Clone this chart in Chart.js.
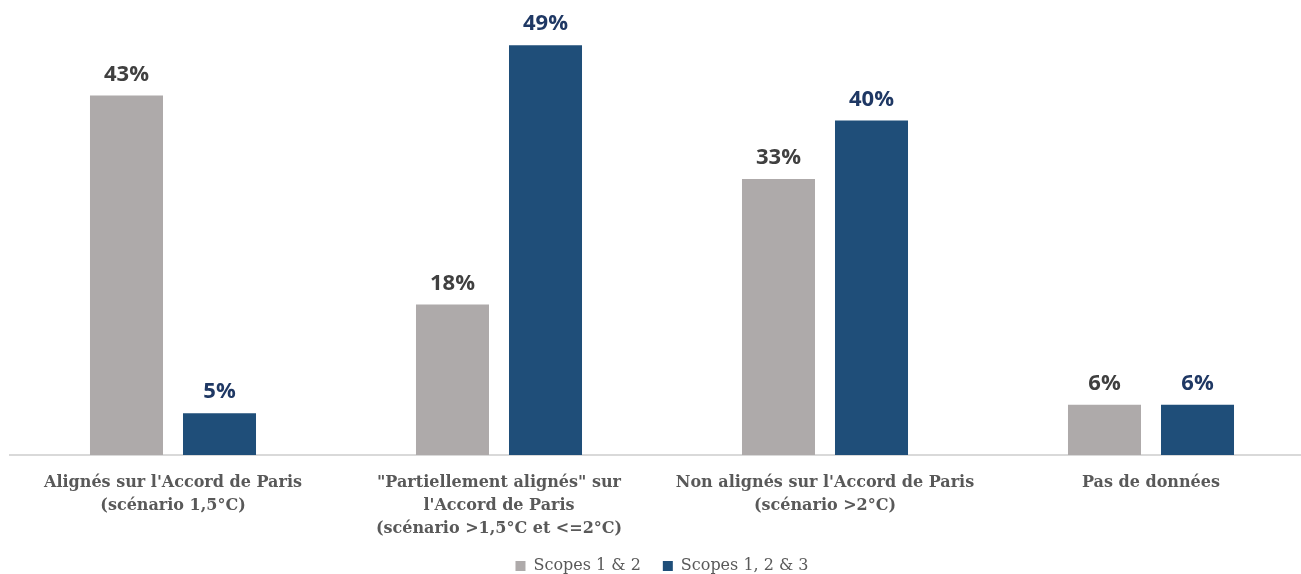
<!DOCTYPE html>
<html lang="fr">
<head>
<meta charset="utf-8">
<script src="https://cdn.jsdelivr.net/npm/chart.js@4/dist/chart.umd.min.js"></script>
<style>
  html, body { margin: 0; padding: 0; background: #fff; overflow: hidden; }
  #wrap { width: 1340px; height: 574px; }
</style>
</head>
<body>
<div id="wrap"><canvas id="barChart"></canvas></div>
<script>
const categories = [
    ["Alignés sur l'Accord de Paris", "(scénario 1,5°C)"],
    ['"Partiellement alignés" sur', "l'Accord de Paris", "(scénario >1,5°C et <=2°C)"],
    ["Non alignés sur l'Accord de Paris", "(scénario >2°C)"],
    ["Pas de données"]
];
const seriesNames = ['Scopes 1 & 2', 'Scopes 1, 2 & 3'];
const scopes12 = [43, 18, 33, 6];
const scopes123 = [5, 49, 40, 6];

const barColors = ['#AEAAAA', '#1F4E79'];
const labelColors = ['#404040', '#1F3864'];

// draws the percentage above each bar
const valueLabels = {
    id: 'valueLabels',
    afterDatasetsDraw(chart) {
        const ctx = chart.ctx;
        ctx.save();
        ctx.font = 'bold 22px "Open Sans"';
        ctx.textAlign = 'center';
        ctx.textBaseline = 'alphabetic';
        chart.data.datasets.forEach((ds, i) => {
            chart.getDatasetMeta(i).data.forEach((bar, j) => {
                ctx.fillStyle = labelColors[i];
                ctx.fillText(ds.data[j] + '%', bar.x, bar.y - 15);
            });
        });
        ctx.restore();
    }
};

function createBarChart() {
    const ctx = document.getElementById('barChart').getContext('2d');
    new Chart(ctx, {
        type: 'bar',
        data: {
            labels: categories,
            datasets: [{
                label: seriesNames[0],
                data: scopes12,
                backgroundColor: barColors[0]
            }, {
                label: seriesNames[1],
                data: scopes123,
                backgroundColor: barColors[1]
            }]
        },
        options: {
            responsive: true,
            maintainAspectRatio: false,
            animation: false,
            categoryPercentage: 0.5706,
            barPercentage: 0.785,
            layout: {
                padding: { top: 37, left: 10, right: 26, bottom: -10 }
            },
            plugins: {
                tooltip: { enabled: false },
                legend: {
                    position: 'bottom',
                    labels: {
                        color: '#595959',
                        font: { family: '"DejaVu Serif"', size: 16 },
                        boxWidth: 10,
                        boxHeight: 10,
                        padding: 22
                    }
                }
            },
            scales: {
                x: {
                    grid: { display: false },
                    border: { color: '#D9D9D9', width: 2 },
                    ticks: {
                        color: '#595959',
                        padding: 8,
                        maxRotation: 0,
                        font: { family: '"DejaVu Serif"', size: 16, weight: 'bold', lineHeight: '23px' }
                    },
                    // keep the legend close under the three-line label
                    afterFit(scale) {
                        scale.height -= 12;
                    }
                },
                y: {
                    display: false,
                    beginAtZero: true,
                    max: 50
                }
            }
        },
        plugins: [valueLabels]
    });
}

createBarChart();
</script>
</body>
</html>
